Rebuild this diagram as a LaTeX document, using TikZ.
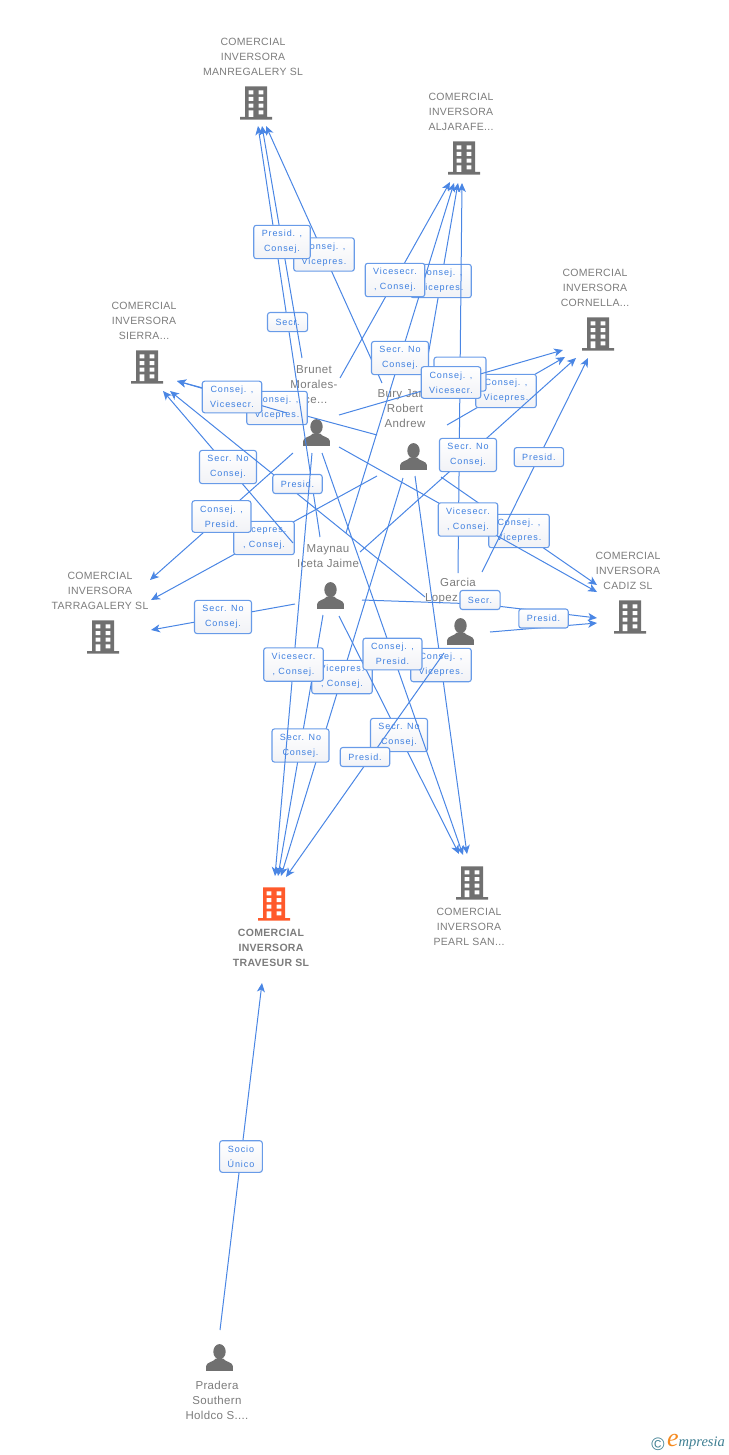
\documentclass[tikz,border=0pt]{standalone}
\usepackage{fontspec}
\usepackage{xcolor}
\usetikzlibrary{arrows.meta}
\setmainfont{Liberation Sans}
\newfontfamily\tagfont[LetterSpace=10]{Liberation Sans}
\newfontfamily\namefont[LetterSpace=3]{Liberation Sans}
\newfontfamily\logofont{Liberation Serif}
\definecolor{linkblue}{HTML}{4A86E4}
\definecolor{tagblue}{HTML}{3F80E0}
\definecolor{tagedge}{HTML}{689BE8}
\definecolor{tagshade}{HTML}{F1F2F6}
\definecolor{icongrey}{HTML}{707070}
\definecolor{textgrey}{HTML}{7C7C7C}
\definecolor{mainorange}{HTML}{FF5A2B}
\definecolor{logoteal}{HTML}{3F7F92}
\definecolor{logoorange}{HTML}{F58A1F}
\tikzstyle{tag} = [draw=tagedge, line width=1.1pt, rounded corners=2.5pt, top color=white, bottom color=tagshade, text=tagblue, align=center, inner xsep=8pt, inner ysep=5pt, minimum height=19pt, font=\tagfont\fontsize{9}{15}\selectfont]
\tikzstyle{link} = [draw=linkblue, line width=1pt, ->, >={Stealth[length=9pt,width=8pt,inset=2.5pt]}]
\tikzstyle{firmtext} = [text=textgrey, align=center, inner sep=0pt, font=\namefont\fontsize{10.5}{15}\selectfont]
\tikzstyle{persontext} = [text=textgrey, align=center, inner sep=0pt, font=\namefont\fontsize{11.5}{15}\selectfont]
\tikzset{
  pics/company/.style={code={
    \fill[#1] (-11,-16.7) rectangle (11,14) (-16,14) rectangle (16,16.7);
    \fill[white] (-7.3,-12.7) rectangle (-2.7,-8.7) (2.5,-12.7) rectangle (7.3,-8.7);
    \fill[white] (-7.3,-6) rectangle (-2.7,-2) (2.5,-6) rectangle (7.3,-2);
    \fill[white] (-7.3,0.7) rectangle (-2.7,4.7) (2.5,0.7) rectangle (7.3,4.7);
    \fill[white] (-7.3,7.3) rectangle (-2.7,14) (2.5,7.3) rectangle (7.3,11.3);
  }},
  pics/person/.style={code={
    \fill[icongrey] (0,-5.8) ellipse [x radius=6.2, y radius=7.6];
    \fill[icongrey] (-13.4,13.4) -- (-13.4,8.5) .. controls (-13,4.5) and (-6,4.5) .. (-3.5,1) -- (3.5,1) .. controls (6,4.5) and (13,4.5) .. (13.4,8.5) -- (13.4,13.4) -- cycle;
  }}
}

\begin{document}
\begin{tikzpicture}[x=1pt, y=-1pt]
    \useasboundingbox (0,0) rectangle (728,1455);

    % Companies
    \node (manregText) at (253,57) [firmtext] {COMERCIAL\\INVERSORA\\MANREGALERY SL};
    \pic at (256,103) {company=icongrey};
    \node (aljarafeText) at (461,112) [firmtext] {COMERCIAL\\INVERSORA\\ALJARAFE...};
    \pic at (464,158) {company=icongrey};
    \node (cornellaText) at (595,288) [firmtext] {COMERCIAL\\INVERSORA\\CORNELLA...};
    \pic at (598,334) {company=icongrey};
    \node (sierraText) at (144,321) [firmtext] {COMERCIAL\\INVERSORA\\SIERRA...};
    \pic at (147,367) {company=icongrey};
    \node (cadizText) at (628,571) [firmtext] {COMERCIAL\\INVERSORA\\CADIZ SL};
    \pic at (630,617) {company=icongrey};
    \node (tarraText) at (100,591) [firmtext] {COMERCIAL\\INVERSORA\\TARRAGALERY SL};
    \pic at (103,637) {company=icongrey};
    \node (pearlText) at (469,927) [firmtext] {COMERCIAL\\INVERSORA\\PEARL SAN...};
    \pic at (472,883) {company=icongrey};
    \node (travesurText) at (271,948) [firmtext, font=\namefont\bfseries\fontsize{10.5}{15}\selectfont] {COMERCIAL\\INVERSORA\\TRAVESUR SL};
    \pic at (274,904) {company=mainorange};

    % People
    \node (brunetText) at (314,385) [persontext] {Brunet\\Morales-\\Ice...};
    \pic at (316.5,432.5) {person};
    \node (buryText) at (405,409) [persontext] {Bury Jar...\\Robert\\Andrew};
    \pic at (413.5,456.5) {person};
    \node (maynauText) at (328,556) [persontext] {Maynau\\Iceta Jaime};
    \pic at (330.5,595.5) {person};
    \node (garciaText) at (458,591) [persontext] {Garcia\\Lopez\hspace*{33pt}};
    \pic at (460.5,631.5) {person};
    \node (praderaText) at (217,1400) [persontext] {Pradera\\Southern\\Holdco S....};
    \pic at (219.5,1357.5) {person};

    % Arrival points
    \coordinate (manreg1) at (258,126);
    \coordinate (manreg2) at (262,126);
    \coordinate (manreg3) at (266,126);
    \coordinate (aljarafe1) at (450,182);
    \coordinate (aljarafe2) at (454,183);
    \coordinate (aljarafe3) at (458,183);
    \coordinate (aljarafe4) at (462,183);
    \coordinate (cornella1) at (563,350);
    \coordinate (cornella2) at (565,357);
    \coordinate (cornella3) at (576,358);
    \coordinate (cornella4) at (588,358);
    \coordinate (sierra1) at (177,381);
    \coordinate (sierra2) at (170,391);
    \coordinate (sierra3) at (163,391);
    \coordinate (tarra1) at (150,580);
    \coordinate (tarra2) at (151,600);
    \coordinate (tarra3) at (151,630);
    \coordinate (cadiz1) at (597,585);
    \coordinate (cadiz2) at (597,592);
    \coordinate (cadiz3) at (597,618);
    \coordinate (cadiz4) at (597,623);
    \coordinate (travesur1) at (275,876);
    \coordinate (travesur2) at (278,876);
    \coordinate (travesur3) at (281,876);
    \coordinate (travesur4) at (286,877);
    \coordinate (travesur5) at (262,983);
    \coordinate (pearl1) at (459,854);
    \coordinate (pearl2) at (463,855);
    \coordinate (pearl3) at (467,854);

    % Starting points
    \coordinate (bury1) at (382,383);
    \coordinate (bury2) at (424,379);
    \coordinate (bury3) at (447,425);
    \coordinate (bury4) at (377,435);
    \coordinate (bury5) at (377,476);
    \coordinate (bury6) at (441,477);
    \coordinate (bury7) at (403,478);
    \coordinate (bury8) at (415,476);
    \coordinate (maynau1) at (320,537);
    \coordinate (maynau2) at (346,533);
    \coordinate (maynau3) at (360,552);
    \coordinate (maynau4) at (293,543);
    \coordinate (maynau5) at (295,604);
    \coordinate (maynau6) at (362,600);
    \coordinate (maynau7) at (323,615);
    \coordinate (maynau8) at (339,616);
    \coordinate (secrBend) at (480,604);
    \coordinate (garcia1) at (458,573);
    \coordinate (garcia2) at (482,572);
    \coordinate (garcia3) at (425,597);
    \coordinate (garcia4) at (490,632);
    \coordinate (garcia5) at (444,653);
    \coordinate (brunet1) at (302,358);
    \coordinate (brunet2) at (340,378);
    \coordinate (brunet3) at (339,415);
    \coordinate (brunet4) at (287,413);
    \coordinate (brunet5) at (293,453);
    \coordinate (brunet6) at (339,447);
    \coordinate (brunet7) at (312,453);
    \coordinate (brunet8) at (322,453);
    \coordinate (pradera1) at (220,1330);

    % Bury
    \draw [link] (bury1) -- node[tag] (tagBury1) {Consej. ,\\Vicepres.} (manreg3);
    \draw [link] (bury2) -- node[tag] (tagBury2) {Consej. ,\\Vicepres.} (aljarafe3);
    \draw [link] (bury3) -- node[tag] (tagBury3) {Consej. ,\\Vicepres.} (cornella2);
    \draw [link] (bury4) -- node[tag] (tagBury4) {Consej. ,\\Vicepres.} (sierra1);
    \draw [link] (bury5) -- node[tag] (tagBury5) {Vicepres.\\, Consej.} (tarra2);
    \draw [link] (bury6) -- node[tag] (tagBury6) {Consej. ,\\Vicepres.} (cadiz1);
    \draw [link] (bury7) -- node[tag] (tagBury7) {Vicepres.\\, Consej.} (travesur3);
    \draw [link] (bury8) -- node[tag] (tagBury8) {Consej. ,\\Vicepres.} (pearl3);

    % Garcia, the label is covered in the picture
    \draw [link] (garcia1) -- node[tag, minimum width=52pt, minimum height=34pt, pos=.51] (tagGarcia1) {} (aljarafe4);

    % Maynau
    \draw [link] (maynau1) -- node[tag, pos=.523] (tagMaynau1) {Secr.} (manreg1);
    \draw [link] (maynau2) -- node[tag] (tagMaynau2) {Secr. No\\Consej.} (aljarafe2);
    \draw [link] (maynau3) -- node[tag] (tagMaynau3) {Secr. No\\Consej.} (cornella3);
    \draw [link] (maynau4) -- node[tag] (tagMaynau4) {Secr. No\\Consej.} (sierra3);
    \draw [link] (maynau5) -- node[tag] (tagMaynau5) {Secr. No\\Consej.} (tarra3);
    \draw [link] (maynau6) -- (secrBend) -- (cadiz3);
    \node (tagMaynau6) at (480,600) [tag] {Secr.};
    \draw [link] (maynau7) -- node[tag] (tagMaynau7) {Secr. No\\Consej.} (travesur2);
    \draw [link] (maynau8) -- node[tag] (tagMaynau8) {Secr. No\\Consej.} (pearl1);

    % Garcia
    \draw [link] (garcia2) -- node[tag, pos=.537] (tagGarcia2) {Presid.} (cornella4);
    \draw [link] (garcia3) -- node[tag, yshift=10pt] (tagGarcia3) {Presid.} (sierra2);
    \draw [link] (garcia4) -- node[tag, yshift=9pt] (tagGarcia4) {Presid.} (cadiz4);
    \draw [link] (garcia5) -- node[tag, yshift=8pt] (tagGarcia5) {Presid.} (travesur4);

    % Brunet
    \draw [link] (brunet1) -- node[tag] (tagBrunet1) {Presid. ,\\Consej.} (manreg2);
    \draw [link] (brunet2) -- node[tag] (tagBrunet2) {Vicesecr.\\, Consej.} (aljarafe1);
    \draw [link] (brunet3) -- node[tag] (tagBrunet3) {Consej. ,\\Vicesecr.} (cornella1);
    \draw [link] (brunet4) -- node[tag] (tagBrunet4) {Consej. ,\\Vicesecr.} (sierra1);
    \draw [link] (brunet5) -- node[tag] (tagBrunet5) {Consej. ,\\Presid.} (tarra1);
    \draw [link] (brunet6) -- node[tag] (tagBrunet6) {Vicesecr.\\, Consej.} (cadiz2);
    \draw [link] (brunet7) -- node[tag] (tagBrunet7) {Vicesecr.\\, Consej.} (travesur1);
    \draw [link] (brunet8) -- node[tag] (tagBrunet8) {Consej. ,\\Presid.} (pearl2);

    % Pradera
    \draw [link] (pradera1) -- node[tag] (tagPradera) {Socio\\Único} (travesur5);

    % Logo
    \node (logoMark) at (658,1444) [inner sep=0pt, text=logoteal, font=\fontsize{18}{18}\selectfont] {©};
    \node (logoName) at (696,1442) [inner sep=0pt, font=\logofont\itshape\fontsize{14.5}{14.5}\selectfont] {\textcolor{logoorange}{\fontsize{26}{26}\selectfont e}\textcolor{logoteal}{mpresia}};
\end{tikzpicture}
\end{document}
